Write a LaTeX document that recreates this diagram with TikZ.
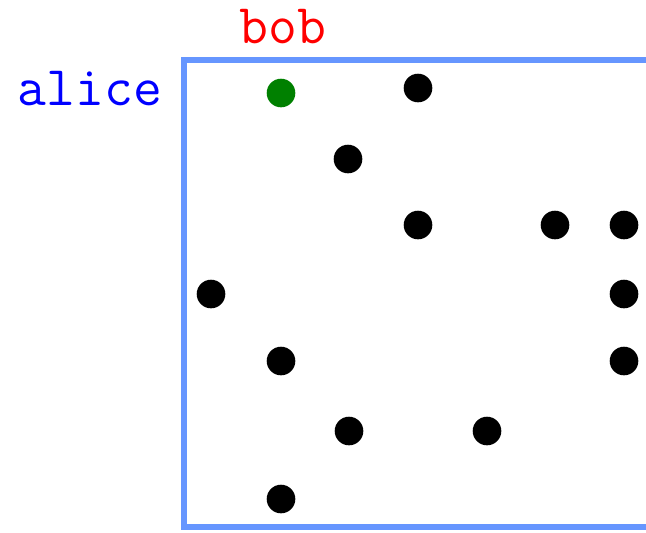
\documentclass[tikz,border=0pt]{standalone}
\usepackage{xcolor}
\usetikzlibrary{positioning}
\definecolor{framecolor}{RGB}{102, 150, 255}
\definecolor{startgreen}{RGB}{0, 128, 0}

\begin{document}
\begin{tikzpicture}[x=0.5pt, y=-0.5pt,
        % --- TikZ Styles ---
        dot/.style={circle, fill=black, inner sep=0pt, minimum size=14.3pt},
        startdot/.style={dot, fill=startgreen},
        label/.style={font=\ttfamily\fontsize{28}{28}\selectfont, inner sep=0pt, anchor=base},
        frame/.style={draw=framecolor, line width=3pt}
    ]

    % --- CANVAS ---
    \useasboundingbox (0,0) rectangle (646,532);
    \clip (0,0) rectangle (646,532);

    % --- 1. FRAME ---
    \coordinate (topright) at (720,60);
    \coordinate (topleft) at (184,60);
    \coordinate (botleft) at (184,527);
    \coordinate (botright) at (720,527);
    \draw[frame] (topright) -- (topleft) -- (botleft) -- (botright);

    % --- 2. LABELS ---
    \node[label, text=blue] (alice) at (90,105) {alice};
    \node[label, text=red] (bob) at (283,43) {bob};

    % --- 3. DOTS ---
    \node[startdot] (start) at (281,93) {};
    \node[dot] (d1) at (418,88) {};
    \node[dot] (d2) at (348,159) {};
    \node[dot] (d3) at (418,225) {};
    \node[dot] (d4) at (555,225) {};
    \node[dot] (d5) at (624,225) {};
    \node[dot] (d6) at (211,294) {};
    \node[dot] (d7) at (624,294) {};
    \node[dot] (d8) at (281,361) {};
    \node[dot] (d9) at (624,361) {};
    \node[dot] (d10) at (349,431) {};
    \node[dot] (d11) at (487,431) {};
    \node[dot] (d12) at (281,499) {};

\end{tikzpicture}
\end{document}
